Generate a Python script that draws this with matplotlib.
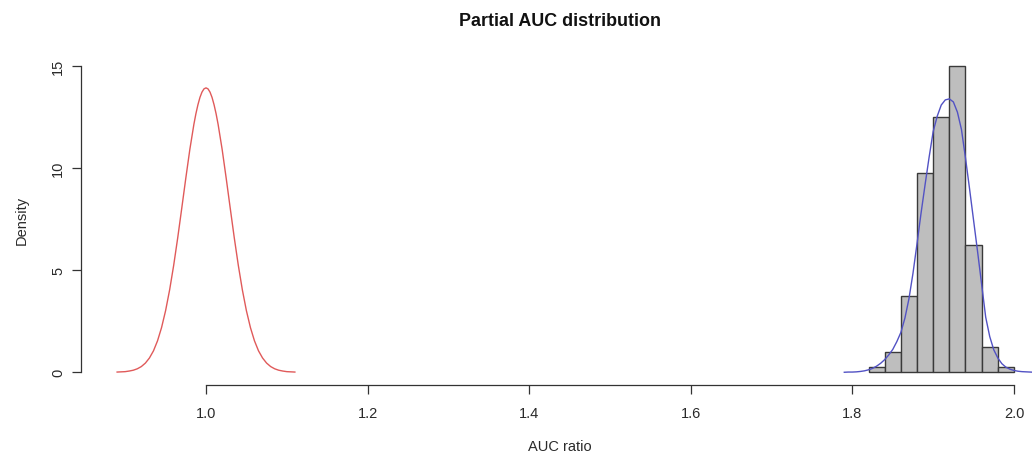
import numpy as np
import matplotlib
matplotlib.use("Agg")
import matplotlib.pyplot as plt

plt.rcParams['font.family'] = ['Liberation Sans', 'DejaVu Sans']

# histogram of observed AUC ratios (density scale, bin width 0.02)
bin_edges = [1.82, 1.84, 1.86, 1.88, 1.90, 1.92, 1.94, 1.96, 1.98, 2.00]
bin_density = [0.25, 1.0, 3.75, 9.75, 12.5, 15.0, 6.25, 1.25, 0.25]

# null distribution curve (red)
red_x = [0.890, 0.895, 0.900, 0.905, 0.910, 0.915, 0.920, 0.925, 0.930, 0.935,
         0.940, 0.945, 0.950, 0.955, 0.960, 0.965, 0.970, 0.975, 0.980, 0.985,
         0.9875, 0.990, 0.9925, 0.995, 0.9975, 1.000, 1.0025, 1.005, 1.0075,
         1.010, 1.0125, 1.015, 1.020, 1.025, 1.030, 1.035,
         1.040, 1.045, 1.050, 1.055, 1.060, 1.065, 1.070, 1.075, 1.080, 1.085,
         1.090, 1.095, 1.100, 1.105, 1.110]
red_y = [0.01, 0.02, 0.03, 0.06, 0.10, 0.17, 0.28, 0.45, 0.70, 1.05,
         1.54, 2.19, 3.02, 4.04, 5.24, 6.59, 8.04, 9.51, 10.92, 12.15,
         12.67, 13.11, 13.47, 13.73, 13.89, 13.94, 13.89, 13.73, 13.47,
         13.11, 12.67, 12.15, 10.92, 9.51, 8.04, 6.59,
         5.24, 4.04, 3.02, 2.19, 1.54, 1.05, 0.70, 0.45, 0.28, 0.17,
         0.10, 0.06, 0.03, 0.02, 0.01]

# fitted density of observed ratios (blue)
blue_x = [1.790, 1.795, 1.800, 1.805, 1.810, 1.815, 1.820, 1.825, 1.830, 1.835,
          1.840, 1.845, 1.850, 1.855, 1.860, 1.865, 1.870, 1.875, 1.880, 1.885,
          1.890, 1.895, 1.900, 1.905, 1.910, 1.915, 1.920, 1.925, 1.930, 1.935,
          1.940, 1.945, 1.950, 1.955, 1.960, 1.965, 1.970, 1.975, 1.980, 1.985,
          1.990, 1.995, 2.000, 2.005, 2.010, 2.015, 2.020, 2.025, 2.030]
blue_y = [0.00, 0.01, 0.01, 0.02, 0.04, 0.07, 0.12, 0.19, 0.30, 0.44,
          0.62, 0.85, 1.12, 1.50, 1.95, 2.65, 3.60, 4.85, 6.30, 7.80,
          9.20, 10.55, 11.80, 12.55, 13.10, 13.35, 13.40, 13.25, 12.75, 11.90,
          10.50, 9.00, 7.45, 5.90, 4.30, 2.70, 1.75, 1.10, 0.70, 0.42,
          0.25, 0.15, 0.09, 0.05, 0.03, 0.02, 0.01, 0.00, 0.00]

x_ticks = [1.0, 1.2, 1.4, 1.6, 1.8, 2.0]
y_ticks = [0, 5, 10, 15]

fig = plt.figure(figsize=(10.32, 4.56), dpi=100)
ax = fig.add_axes([81 / 1032, 1 - 385.5 / 456, (1037 - 81) / 1032, 330.5 / 456])

widths = np.diff(bin_edges)
ax.bar(bin_edges[:-1], bin_density, width=widths, align='edge',
       color='#bebebe', edgecolor='#3a3a3a', linewidth=1.0, zorder=2)
ax.plot(red_x, red_y, color='#e05a5a', lw=1.0, zorder=3)
ax.plot(blue_x, blue_y, color='#5252c4', lw=1.0, zorder=3)

ax.set_xlim(0.8453, 2.0285)
ax.set_ylim(-0.6, 15.6)

for s in ['top', 'right']:
    ax.spines[s].set_visible(False)
ax.spines['left'].set_bounds(0, 15)
ax.spines['bottom'].set_bounds(1.0, 2.0)
for s in ['left', 'bottom']:
    ax.spines[s].set_color('#333333')
    ax.spines[s].set_linewidth(0.9)

ax.set_xticks(x_ticks)
ax.set_xticklabels(['%.1f' % v for v in x_ticks])
ax.set_yticks(y_ticks)
ax.set_yticklabels([str(v) for v in y_ticks], rotation=90, va='center')
ax.tick_params(axis='both', length=6.5, width=0.9, color='#333333',
               labelsize=10.5, labelcolor='#2a2a2a')
ax.tick_params(axis='x', pad=9)
ax.tick_params(axis='y', pad=5)

fig.text(560 / 1032, 1 - 22 / 456, 'Partial AUC distribution', ha='center',
         va='center', fontsize=12.9, fontweight='bold', color='#111111')
fig.text(560 / 1032, 1 - 447 / 456, 'AUC ratio', ha='center', va='center',
         fontsize=10.5, color='#2a2a2a')
fig.text(22 / 1032, 1 - 220 / 456, 'Density', ha='center', va='center',
         rotation=90, fontsize=10.5, color='#2a2a2a')

fig.savefig('out.png', dpi=100)
